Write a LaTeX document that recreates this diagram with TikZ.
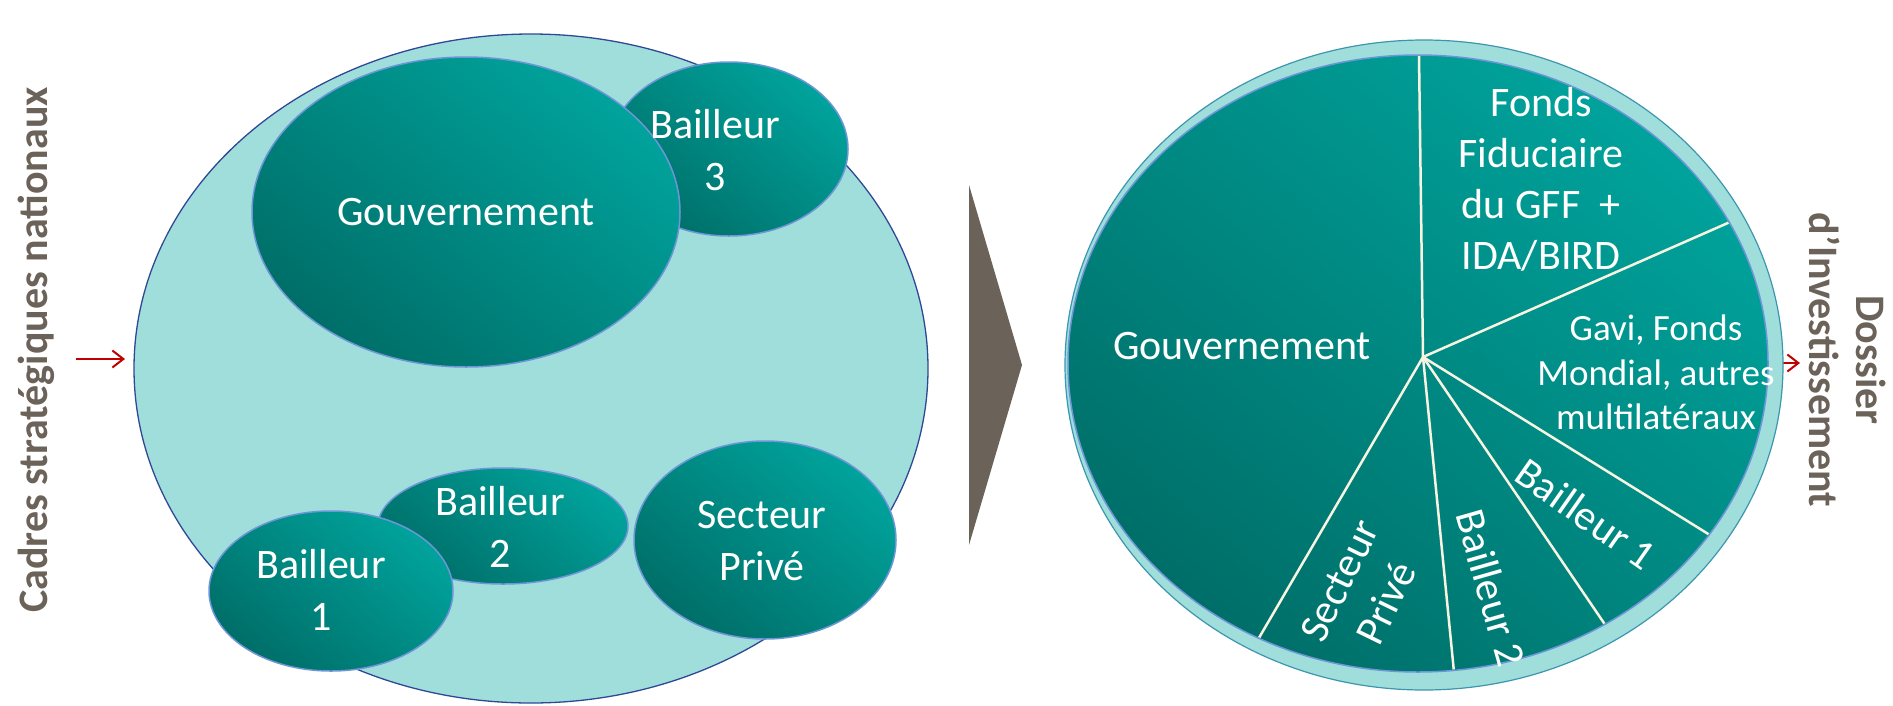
\documentclass[tikz,border=0pt]{standalone}
\usepackage{fontspec}
\setmainfont{Carlito}
\usetikzlibrary{shapes.geometric,arrows.meta}

\definecolor{paleteal}{RGB}{160,222,220}
\definecolor{tealhi}{RGB}{0,163,156}
\definecolor{teallo}{RGB}{0,110,104}
\definecolor{poolrim}{RGB}{47,72,150}
\definecolor{blobrim}{RGB}{110,150,215}
\definecolor{ringrim}{RGB}{60,150,175}
\definecolor{taupe}{RGB}{107,98,89}
\definecolor{flowred}{RGB}{192,0,0}
\definecolor{cream}{RGB}{248,244,225}

\tikzset{
  pool/.style={ellipse, inner sep=0pt, fill=paleteal, draw=poolrim, line width=1.3pt},
  blob/.style={ellipse, inner sep=0pt, draw=blobrim, line width=1.5pt,
               top color=tealhi, bottom color=teallo, shading angle=-40},
  lbl/.style={text=white, align=center, font=\fontsize{42}{52}\selectfont},
  sidelbl/.style={text=taupe, align=center, font=\fontsize{42}{47}\selectfont\bfseries},
  flow/.style={draw=flowred, line width=2pt, -{Straight Barb[length=11pt,width=17pt]}},
  divider/.style={draw=cream, line width=2.5pt},
}

\begin{document}
\begin{tikzpicture}[x=1pt,y=-1pt]
\useasboundingbox (0,0) rectangle (1893,705);

% ---- left: national frameworks ----
\node[sidelbl, rotate=90] (cadres) at (36,350) {Cadres stratégiques nationaux};
\coordinate (inA) at (76,359);
\coordinate (inB) at (125,359);
\draw[flow] (inA) -- (inB);

\node[pool, minimum width=794pt, minimum height=669pt] (poolL) at (531,368.5) {};

\node[blob, minimum width=238pt, minimum height=174pt] (b3) at (729,149) {};
\node[blob, minimum width=428pt, minimum height=310pt] (gov) at (466,212) {};
\node[blob, minimum width=250pt, minimum height=116pt] (b2) at (503,526) {};
\node[blob, minimum width=244pt, minimum height=160pt] (b1) at (331,591) {};
\node[blob, minimum width=262pt, minimum height=198pt] (sp) at (765,540) {};

\node[lbl] (govT) at (466,212) {Gouvernement};
\node[lbl] (b3T) at (715,150) {Bailleur\\3};
\node[lbl] (b2T) at (500,527) {Bailleur\\2};
\node[lbl] (b1T) at (321,590) {Bailleur\\1};
\node[lbl] (spT) at (762,541) {Secteur\\Privé};

% ---- transition chevron ----
\fill[taupe] (969,185) -- (1022,365) -- (969,545) -- cycle;

% ---- right: investment case pie ----
\coordinate (outA) at (1760,363);
\coordinate (outB) at (1800,363);
\draw[flow] (outA) -- (outB);

\node[ellipse, inner sep=0pt, fill=paleteal, draw=ringrim, line width=1.2pt,
      minimum width=718pt, minimum height=650pt] (ring) at (1424,365) {};
\node[blob, minimum width=700pt, minimum height=617pt] (pie) at (1418,363.5) {};

\coordinate (pc) at (1423,357);
\coordinate (e1) at (1418.4,10);
\coordinate (e2) at (1779,200.5);
\coordinate (e3) at (1755,563);
\coordinate (e4) at (1633,665.7);
\coordinate (e5) at (1458.7,720);
\coordinate (e6) at (1234.6,679.6);
\begin{scope}
  \clip (1418,363.5) ellipse [x radius=349pt, y radius=307.5pt];
  \foreach \e in {e1,e2,e3,e4,e5,e6} \draw[divider] (pc) -- (\e);
\end{scope}

\node[lbl] (pgovT) at (1242,346) {Gouvernement};
\node[lbl, font=\fontsize{42}{51}\selectfont] (gffT) at (1541,179.5)
  {Fonds\\Fiduciaire\\du GFF~ +\\IDA/BIRD};
\node[lbl, font=\fontsize{37}{44.5}\selectfont] (gaviT) at (1656,372.6)
  {Gavi, Fonds\\Mondial, autres\\multilatéraux};
\node[lbl, rotate=64] (pspT) at (1363,592) {Secteur\\Privé};
\node[lbl, rotate=-74] (pb2T) at (1491,588) {Bailleur 2};
\node[lbl, rotate=-35] (pb1T) at (1586,514) {Bailleur 1};

\node[sidelbl, rotate=-90] (dossier) at (1848,360) {Dossier\\d’Investissement};
\end{tikzpicture}
\end{document}
